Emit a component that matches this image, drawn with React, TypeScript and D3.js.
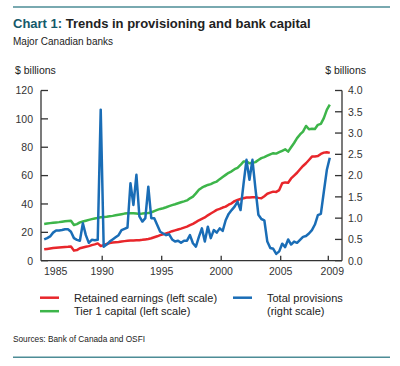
import React from "react";
import * as d3 from "d3";

// quarterly data, 1985Q1 .. 2009Q1, plotted at mid-quarter
const startYear = 1985;

// Retained earnings, $ billions (left scale)
const retainedEarnings = [
  8.0, 8.3, 8.6, 8.9,
  9.1, 9.3, 9.5, 9.7,
  9.8, 10.0, 7.1, 7.5,
  8.8, 9.3, 9.8, 10.3,
  11.0, 11.5, 12.2, 10.4,
  11.0, 11.8, 12.5, 12.8,
  13.0, 13.2, 13.5, 13.8,
  14.0, 14.2, 14.3, 14.4,
  14.5, 14.7, 15.0, 15.3,
  15.8, 16.5, 17.2, 18.0,
  18.6, 19.3, 20.0, 20.8,
  21.4, 22.0, 22.6, 23.3,
  24.0, 25.0, 26.0, 27.2,
  28.5, 29.5, 30.5, 32.0,
  33.3, 34.5, 35.8, 36.5,
  37.5, 38.1, 39.5, 40.5,
  42.0, 42.8, 43.5, 44.0,
  44.5, 44.6, 44.7, 44.7,
  44.3, 44.0, 45.5, 47.2,
  48.0, 48.7, 48.5, 49.8,
  54.6, 55.2, 55.0, 58.0,
  60.0, 62.0, 64.5, 66.8,
  68.7, 71.0, 73.4, 73.5,
  73.8, 75.3, 76.2, 76.5,
  76.0,
];

// Tier 1 capital, $ billions (left scale)
const tier1Capital = [
  25.9, 26.2, 26.5, 26.8,
  27.0, 27.2, 27.5, 27.8,
  28.0, 28.2, 25.2, 25.8,
  27.0, 27.6, 28.2, 28.8,
  29.3, 29.8, 30.2, 30.6,
  30.8, 31.0, 31.3, 31.6,
  32.0, 32.4, 32.8, 33.2,
  33.5, 33.5, 33.4, 33.2,
  33.0, 33.2, 33.5, 33.6,
  34.0, 35.0, 35.8, 36.5,
  37.0, 37.7, 38.5, 39.2,
  39.8, 40.5, 41.2, 41.8,
  42.5, 44.0, 45.2, 47.5,
  50.0, 51.5, 52.5, 53.4,
  54.0, 55.0, 55.8, 57.5,
  59.0, 60.5, 62.0, 63.0,
  64.5, 65.5, 67.5, 69.9,
  70.0, 68.7, 69.0, 69.5,
  71.0, 72.3, 73.0, 74.0,
  75.0, 75.8, 75.5, 76.5,
  77.5, 78.5, 76.9, 80.0,
  83.0, 86.4, 89.0, 91.0,
  95.0, 92.7, 93.0, 92.8,
  95.8, 96.5, 100.5, 106.3,
  110.0,
];

// Total provisions, $ billions (right scale)
const totalProvisions = [
  0.50, 0.53, 0.57, 0.66,
  0.71, 0.71, 0.72, 0.74,
  0.74, 0.68, 0.53, 0.49,
  0.47, 0.88, 0.60, 0.42,
  0.49, 0.48, 0.49, 3.55,
  0.33, 0.38, 0.45, 0.50,
  0.55, 0.60, 0.72, 0.75,
  0.78, 1.82, 1.31, 2.02,
  1.04, 0.92, 1.00, 1.74,
  1.00, 1.00, 0.84, 0.68,
  0.64, 0.60, 0.62, 0.50,
  0.45, 0.47, 0.42, 0.47,
  0.47, 0.60, 0.41, 0.33,
  0.56, 0.76, 0.45, 0.80,
  0.53, 0.72, 0.66, 0.76,
  0.70, 0.95, 1.10, 1.19,
  1.27, 1.39, 1.19, 1.80,
  2.37, 1.90, 2.37, 1.70,
  1.08, 0.98, 0.95, 0.45,
  0.30, 0.28, 0.16, 0.22,
  0.40, 0.32, 0.50, 0.38,
  0.45, 0.42, 0.49, 0.56,
  0.58, 0.64, 0.72, 0.85,
  1.07, 1.10, 1.62, 2.13,
  2.42,
];

const xTicks = [1985, 1990, 1995, 2000, 2005, 2009];
const leftTicks = [0, 20, 40, 60, 80, 100, 120];
const rightTicks = [0, 0.5, 1, 1.5, 2, 2.5, 3, 3.5, 4];

const legendItems = [
  { label: ["Retained earnings (left scale)"], color: "#e8262b", col: 0, row: 0 },
  { label: ["Tier 1 capital (left scale)"], color: "#3db54a", col: 0, row: 1 },
  { label: ["Total provisions", "(right scale)"], color: "#1a6db6", col: 1, row: 0 },
];

const font = "'Liberation Sans', Arial, Helvetica, sans-serif";
const axisColor = "#333";
const ruleColor = "#4d8c96";

const App = () => {
  const width = 400;
  const height = 366;
  const plot = { left: 41, right: 342, top: 90.5, bottom: 260.7 };

  const x = d3.scaleLinear().domain([1985, 2009]).range([42.7, 328.3]);
  const yLeft = d3.scaleLinear().domain([0, 120]).range([plot.bottom, plot.top]);
  const yRight = d3.scaleLinear().domain([0, 4]).range([plot.bottom, plot.top]);

  const t = (i: number) => startYear + (i + 0.5) / 4;

  const leftLine = d3
    .line<number>()
    .x((_, i) => x(t(i)))
    .y((d) => yLeft(d));
  const rightLine = d3
    .line<number>()
    .x((_, i) => x(t(i)))
    .y((d) => yRight(d));

  const series = [
    { d: leftLine(retainedEarnings), color: "#e8262b" },
    { d: leftLine(tier1Capital), color: "#3db54a" },
    { d: rightLine(totalProvisions), color: "#1a6db6" },
  ];

  return (
    <svg
      width={width}
      height={height}
      style={{ position: "absolute", left: 0, top: 0, background: "#fff" }}
      fontFamily={font}
    >
      <line x1={13} x2={390} y1={7} y2={7} stroke={ruleColor} strokeWidth={1.5} />
      <text x={13} y={28} fontSize={13} fontWeight="bold" fill="#222">
        <tspan fill="#15596a">Chart 1:</tspan> Trends in provisioning and bank capital
      </text>
      <text x={13} y={45} fontSize={10} fill="#222">
        Major Canadian banks
      </text>
      <text x={15} y={74} fontSize={10.5} fill="#222">
        $ billions
      </text>
      <text x={366} y={74} fontSize={10.5} fill="#222" textAnchor="end">
        $ billions
      </text>

      {/* axes */}
      <line x1={plot.left} x2={plot.left} y1={plot.top} y2={plot.bottom} stroke={axisColor} strokeWidth={1.3} />
      <line x1={plot.right} x2={plot.right} y1={plot.top} y2={plot.bottom} stroke={axisColor} strokeWidth={1.3} />
      <line x1={plot.left} x2={plot.right} y1={plot.bottom} y2={plot.bottom} stroke={axisColor} strokeWidth={1.3} />

      {leftTicks.map((v) => (
        <g key={"l" + v}>
          <line x1={plot.left} x2={plot.left + 7} y1={yLeft(v)} y2={yLeft(v)} stroke={axisColor} strokeWidth={1.3} />
          <text x={33} y={yLeft(v) + 3.8} fontSize={10.5} fill="#333" textAnchor="end">
            {v}
          </text>
        </g>
      ))}
      {rightTicks.map((v) => (
        <g key={"r" + v}>
          <line x1={plot.right - 7} x2={plot.right} y1={yRight(v)} y2={yRight(v)} stroke={axisColor} strokeWidth={1.3} />
          <text x={348} y={yRight(v) + 3.8} fontSize={10.5} fill="#333">
            {v.toFixed(1)}
          </text>
        </g>
      ))}
      {xTicks.map((v, i) => (
        <g key={"x" + v}>
          {i > 0 && (
            <line x1={x(v)} x2={x(v)} y1={plot.bottom - 5} y2={plot.bottom} stroke={axisColor} strokeWidth={1.3} />
          )}
          <text
            x={x(v) + (i === 0 ? 13 : i === xTicks.length - 1 ? 4 : 0)}
            y={275}
            fontSize={10.5}
            fill="#333"
            textAnchor="middle"
          >
            {v}
          </text>
        </g>
      ))}

      {series.map((s, i) => (
        <path key={i} d={s.d || ""} fill="none" stroke={s.color} strokeWidth={2.5} strokeLinejoin="round" />
      ))}

      {/* legend */}
      {legendItems.map((item) => {
        const lx = item.col === 0 ? 40 : 233;
        const ly = 297.7 + item.row * 13.5;
        return (
          <g key={item.label[0]}>
            <line x1={lx} x2={lx + 19} y1={ly} y2={ly} stroke={item.color} strokeWidth={2.5} />
            {item.label.map((l, j) => (
              <text key={l} x={lx + 34} y={ly + 4 + j * 13.5} fontSize={11} fill="#222">
                {l}
              </text>
            ))}
          </g>
        );
      })}

      <text x={13} y={341.5} fontSize={9} fill="#222" textLength={132} lengthAdjust="spacingAndGlyphs">
        Sources: Bank of Canada and OSFI
      </text>
      <line x1={13} x2={390} y1={357.3} y2={357.3} stroke={ruleColor} strokeWidth={1.5} />
    </svg>
  );
};

export default App;
